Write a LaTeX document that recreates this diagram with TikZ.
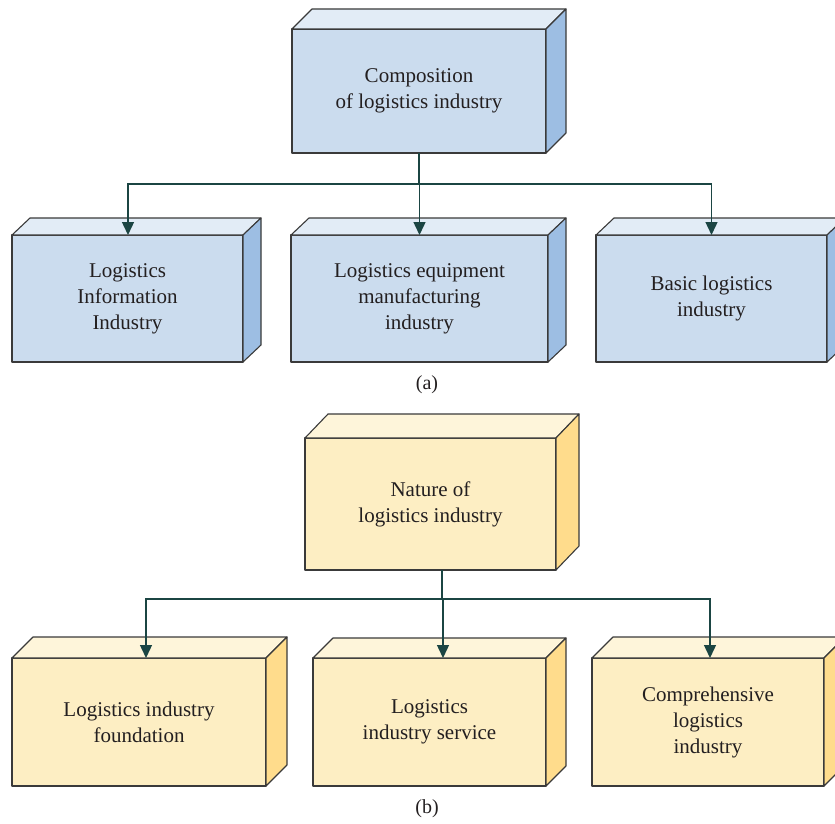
\documentclass[tikz,border=0pt]{standalone}
\usepackage{fontspec}
\setmainfont{Liberation Serif}
\usetikzlibrary{arrows.meta}

\definecolor{edge}{HTML}{3A3A3A}
\definecolor{textc}{HTML}{231F20}
\definecolor{wire}{HTML}{1B4543}
\definecolor{bluefront}{HTML}{CBDCEE}
\definecolor{bluetop}{HTML}{E2ECF6}
\definecolor{blueside}{HTML}{9DBEE3}
\definecolor{yellowfront}{HTML}{FDEEC3}
\definecolor{yellowtop}{HTML}{FEF5DA}
\definecolor{yellowside}{HTML}{FFDC8C}

\tikzset{
  face/.style={draw=edge, line width=1.1pt, line join=round},
  boxtext/.style={align=center, text=textc,
    font=\fontsize{21}{26}\selectfont},
  captext/.style={text=textc, font=\fontsize{20}{24}\selectfont},
  trunk/.style={draw=wire, line width=1.8pt},
  feed/.style={draw=wire, line width=1.4pt,
    -{Triangle[width=12pt,length=13pt]}},
}

% #1 name, #2/#3 front top-left, #4/#5 front bottom-right,
% #6/#7 depth offset, #8 palette, #9 label
\newcommand\cuboid[9]{%
  \node[boxtext, face, fill=#8front, inner sep=0pt, outer sep=0pt,
        anchor=north west,
        minimum width={(#4-#2)*1pt}, minimum height={(#5-#3)*1pt}]
        (#1) at (#2,#3) {#9};
  \filldraw[face, fill=#8top] (#1.north west) -- ++(#6pt,#7pt)
    -- ([shift={(#6pt,#7pt)}]#1.north east) -- (#1.north east) -- cycle;
  \filldraw[face, fill=#8side] (#1.north east) -- ++(#6pt,#7pt)
    -- ([shift={(#6pt,#7pt)}]#1.south east) -- (#1.south east) -- cycle;
}

\begin{document}
\begin{tikzpicture}[x=1pt, y=-1pt]
\useasboundingbox (0,0) rectangle (835,824);
\clip (0,0) rectangle (835,824);

% (a) composition
\cuboid{A0}{292}{29}{546}{153}{20}{20}{blue}{Composition\\of logistics industry}
\cuboid{A1}{12}{235}{243}{362}{18}{17}{blue}{Logistics\\Information\\Industry}
\cuboid{A2}{291}{235}{548}{362}{18}{17}{blue}{Logistics equipment\\manufacturing\\industry}
\cuboid{A3}{596}{235}{827}{362}{18}{17}{blue}{Basic logistics\\industry}
\node[captext] (capA) at (427,385) {(a)};

\coordinate (busA) at (419,184);
\draw[trunk] (A0.south) -- (busA);
\draw[feed] (busA) -| ([xshift=0.5pt]A1.north);
\draw[feed] (A2.north |- busA) -- (A2.north);
\draw[feed] (busA) -| (A3.north);

% (b) nature
\cuboid{B0}{305}{438}{556}{570}{23}{24}{yellow}{Nature of\\logistics industry}
\cuboid{B1}{12}{658}{266}{786}{21}{21}{yellow}{Logistics industry\\foundation}
\cuboid{B2}{313}{658}{546}{786}{20}{20}{yellow}{Logistics\\industry service}
\cuboid{B3}{592}{658}{824}{786}{21}{21}{yellow}{Comprehensive\\logistics\\industry}
\node[captext] (capB) at (427,809) {(b)};

\coordinate (busB) at (442,599);
\draw[trunk] ([xshift=11.5pt]B0.south) -- (busB);
\draw[feed] (busB) -| ([xshift=7pt]B1.north);
\draw[feed] ([xshift=13.5pt]B2.north |- busB) -- ([xshift=13.5pt]B2.north);
\draw[feed] (busB) -| ([xshift=2pt]B3.north);
\end{tikzpicture}
\end{document}
